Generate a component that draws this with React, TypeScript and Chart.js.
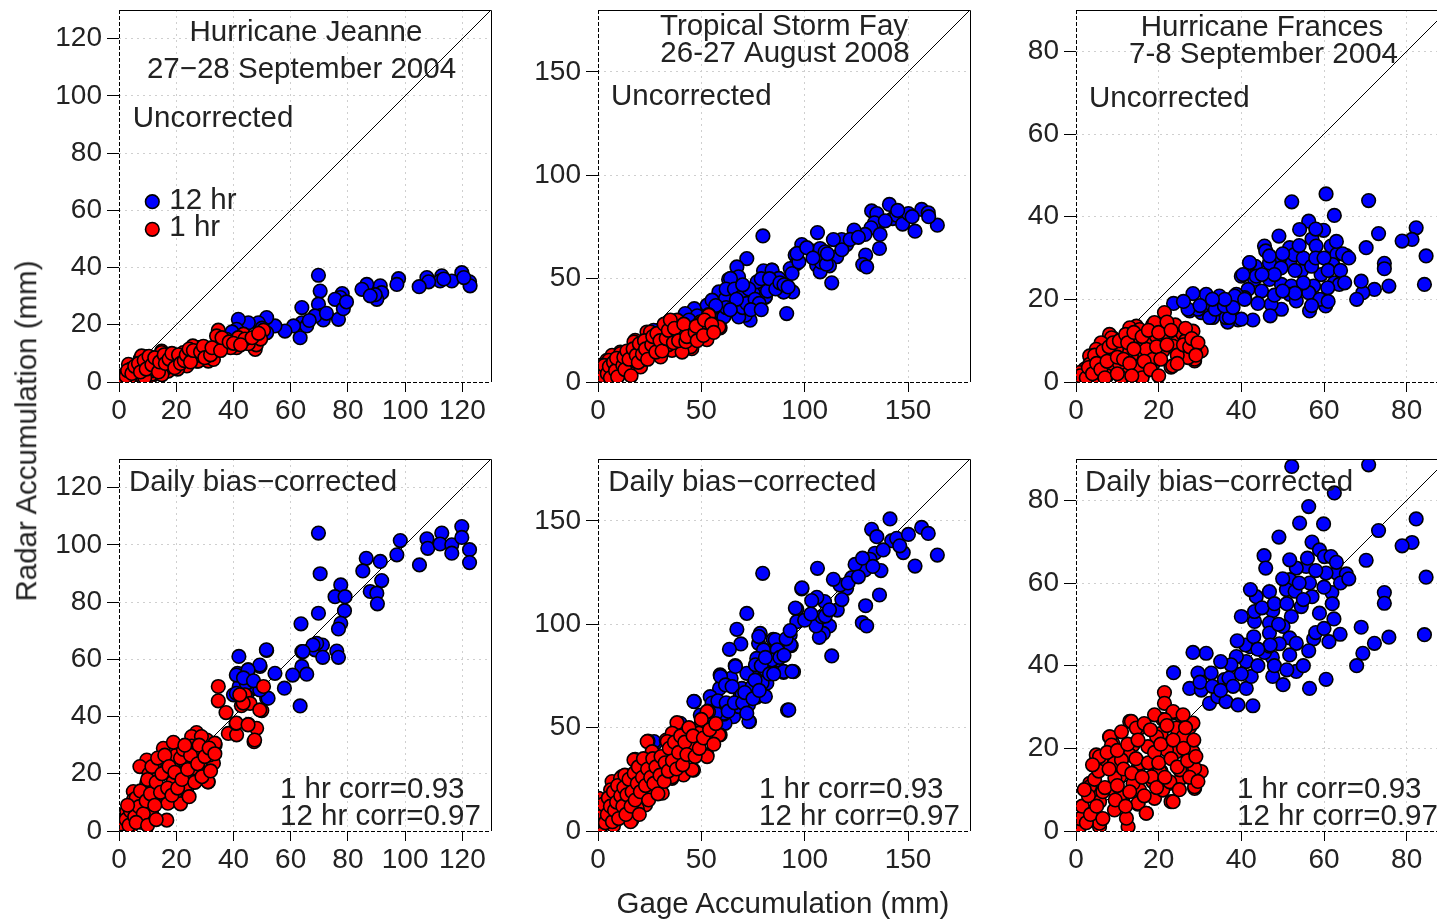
import React, { useEffect, useRef } from "react";
import { Chart, registerables } from "chart.js";

Chart.register(...registerables);

type Pt = [number, number];

// ---------- Hurricane Jeanne, uncorrected ----------
const jeanneRaw12hr: Pt[] = [
  [119.8, 38.2], [122.5, 35.0], [122.7, 33.6], [116.3, 35.3], [112.8, 37.1], [112.2, 35.3], [107.6, 36.5], [108.2, 35.0],
  [104.9, 33.3], [97.7, 36.1], [97.1, 34.1], [91.3, 33.6], [91.8, 31.2], [90.1, 28.9], [89.5, 30.5], [86.6, 34.1],
  [84.9, 32.4], [87.8, 30.1], [78.0, 30.9], [77.3, 29.5], [78.4, 27.2], [75.5, 28.9], [76.7, 21.9], [78.4, 25.6],
  [69.7, 37.3], [70.3, 31.8], [69.7, 27.2], [70.8, 23.3], [71.4, 21.7], [68.5, 23.1], [63.9, 26.0], [63.3, 15.5],
  [63.9, 20.7], [65.6, 19.6], [61.0, 19.6], [58.0, 17.8], [54.5, 19.6], [51.6, 22.5], [48.7, 20.7], [45.2, 20.7],
  [41.7, 21.9], [41.1, 18.4], [39.5, 17.5], [51.6, 17.2], [50.0, 18.8], [66.5, 21.5], [72.5, 24.0], [79.5, 28.0],
  [120.5, 36.5], [113.5, 36.0],
];
const jeanneRaw1hr: Pt[] = [
  [50.5, 18.1], [47.6, 11.4], [48.0, 13.0], [45.2, 13.4], [43.5, 16.7], [41.7, 15.5], [41.1, 12.0], [37.6, 14.9],
  [37.6, 12.5], [34.7, 18.1], [34.1, 16.1], [33.0, 10.8], [31.2, 7.3], [30.7, 11.4], [27.7, 12.0], [27.2, 7.3],
  [25.8, 12.6], [25.5, 10.3], [23.7, 5.6], [21.9, 8.5], [20.2, 7.9], [19.0, 6.8], [16.7, 9.7], [15.5, 7.9],
  [14.9, 10.8], [17.2, 3.8], [13.2, 5.6], [11.4, 2.1], [9.7, 8.9], [7.3, 7.9], [8.5, 5.6], [6.2, 4.4],
  [5.0, 2.1], [2.7, 3.3], [1.7, 0.9], [3.8, 1.5], [0.3, 2.1], [7.9, 9.1], [3.3, 6.2], [1.5, 2.1],
  [11.4, 2.7], [14.9, 10.3], [16.7, 5.0], [19.0, 8.5], [22.5, 10.3], [26.6, 9.7], [27.7, 7.3], [31.2, 10.3],
  [33.0, 7.9], [36.5, 13.8], [6.2, 3.8], [13.2, 6.2], [8.5, 5.0], [10.0, 7.0], [12.0, 4.0], [18.0, 5.5],
  [24.0, 8.0], [29.0, 9.0], [4.0, 4.5], [2.0, 1.0], [9.0, 1.5], [15.0, 2.5], [20.5, 4.5], [44.0, 15.0],
  [49.5, 15.0], [39.0, 12.0], [1.0, 1.5], [2.5, 2.0], [3.0, 4.0], [4.5, 3.0], [5.5, 5.5], [6.8, 6.5],
  [7.5, 3.5], [8.8, 7.5], [9.5, 4.5], [10.5, 9.0], [11.5, 6.0], [12.5, 8.5], [13.8, 3.5], [14.2, 7.0],
  [15.8, 9.5], [16.2, 6.5], [17.5, 8.0], [18.5, 10.0], [19.5, 5.0], [20.8, 9.5], [21.5, 6.5], [22.8, 7.5],
  [23.5, 9.5], [24.5, 11.5], [25.0, 7.0], [26.0, 11.0], [28.5, 10.5], [29.5, 12.5], [30.0, 8.5], [32.0, 9.5],
  [32.5, 12.0], [35.5, 11.0], [36.0, 15.5], [38.5, 14.0], [40.0, 13.5], [42.5, 13.0], [46.5, 15.5], [48.8, 17.0],
];

// ---------- Tropical Storm Fay, uncorrected ----------
const fayRaw12hr: Pt[] = [
  [141.0, 85.9], [142.6, 79.1], [144.5, 80.7], [147.4, 76.4], [150.2, 81.5], [153.4, 73.0], [156.6, 83.5], [159.8, 81.9],
  [164.2, 75.9], [132.4, 82.8], [134.9, 81.5], [133.8, 77.0], [132.1, 74.6], [136.5, 71.4], [129.2, 71.4], [123.9, 73.5],
  [120.3, 66.5], [117.9, 68.9], [113.9, 68.9], [115.5, 60.6], [112.0, 56.2], [113.1, 48.0], [129.5, 61.4], [128.1, 56.8],
  [130.0, 55.7], [136.2, 64.6], [106.2, 72.3], [103.4, 63.5], [107.5, 64.6], [109.9, 63.0], [105.8, 56.5], [107.5, 53.3],
  [98.6, 66.5], [95.4, 61.4], [96.2, 57.3], [93.0, 54.9], [94.2, 43.6], [91.3, 33.1], [89.7, 43.6], [87.3, 50.1],
  [84.1, 54.1], [80.1, 53.8], [79.8, 70.7], [78.5, 46.8], [80.9, 40.9], [82.5, 46.8], [72.0, 59.7], [67.2, 55.7],
  [68.0, 50.9], [63.2, 49.6], [63.9, 42.8], [65.6, 38.8], [66.4, 33.9], [71.2, 33.9], [73.6, 29.9], [74.4, 39.6],
  [76.8, 44.4], [75.2, 42.8], [61.5, 39.6], [59.9, 32.3], [59.1, 42.0], [55.9, 35.5], [52.7, 33.1], [46.6, 35.5],
  [50.3, 29.9], [42.2, 33.1], [26.9, 25.0], [64.1, 50.1], [58.5, 43.6], [61.7, 40.4], [71.3, 32.3], [81.0, 41.2],
  [84.2, 54.1], [87.5, 50.1], [89.9, 43.6], [93.9, 52.5], [97.2, 58.1], [96.3, 62.2], [52.8, 37.2], [55.2, 39.6],
  [60.9, 31.5], [68.1, 31.5], [54.4, 32.3], [70.0, 36.0], [77.0, 48.5], [85.5, 47.0], [108.0, 58.0], [110.5, 57.0],
  [62.0, 45.0], [66.0, 45.0], [69.0, 41.0], [72.0, 38.0], [73.0, 45.0], [76.0, 40.0], [78.0, 38.0], [79.0, 50.0],
  [82.0, 44.0], [83.0, 50.0], [86.0, 45.0], [88.0, 48.0], [90.0, 47.0], [92.0, 46.0], [70.0, 47.0], [67.0, 40.0],
  [62.0, 36.0], [57.0, 37.0], [64.0, 35.0], [74.0, 35.0], [79.0, 35.0], [48.0, 32.0], [44.0, 30.0], [38.0, 28.0],
  [33.0, 27.0], [101.0, 65.0], [104.0, 60.0], [111.0, 62.0], [118.0, 64.0], [122.0, 69.0], [126.0, 70.0], [139.0, 78.0],
  [145.0, 83.0], [152.0, 80.0], [160.0, 80.0],
];
const fayRaw1hr: Pt[] = [
  [53.5, 32.6], [49.5, 29.1], [52.7, 20.5], [45.4, 23.4], [45.4, 16.1], [43.8, 25.8], [38.2, 29.4], [36.6, 21.5],
  [35.8, 15.3], [32.6, 24.2], [31.7, 19.4], [30.1, 12.9], [27.7, 16.1], [23.7, 24.2], [25.3, 20.2], [21.3, 15.3],
  [18.0, 20.2], [14.8, 9.7], [11.6, 4.8], [10.8, 14.5], [6.8, 12.9], [4.3, 10.5], [1.9, 5.7], [1.1, 1.6],
  [16.4, 12.1], [18.8, 7.3], [59.1, 26.2], [49.5, 25.0], [40.6, 23.4], [58.5, 26.6], [53.6, 32.3], [49.6, 28.3],
  [45.6, 22.6], [44.8, 17.0], [38.3, 29.9], [35.9, 21.8], [31.9, 25.9], [30.3, 12.1], [25.4, 24.2], [24.7, 18.6],
  [20.6, 15.4], [17.4, 19.4], [16.6, 10.5], [10.9, 13.8], [11.7, 5.7], [5.3, 10.5], [2.1, 2.4], [40.7, 14.5],
  [39.9, 25.0], [20.6, 7.3], [29.5, 17.0], [8.0, 8.0], [13.5, 9.0], [22.0, 11.0], [27.0, 20.0], [34.0, 18.0],
  [3.5, 6.0], [7.0, 3.0], [0.5, 8.0], [2.0, 3.0], [3.0, 8.0], [4.5, 4.0], [5.5, 7.5], [6.0, 2.0],
  [7.5, 9.5], [8.5, 5.5], [9.0, 11.5], [9.5, 2.5], [12.0, 8.0], [12.5, 12.0], [13.0, 6.0], [14.0, 15.0],
  [15.0, 11.0], [16.0, 3.0], [17.0, 16.0], [18.5, 13.0], [19.5, 9.5], [20.0, 18.5], [21.5, 13.5], [22.5, 20.0],
  [23.0, 16.0], [24.0, 11.0], [26.0, 18.0], [26.5, 22.0], [28.0, 14.5], [28.5, 23.5], [30.0, 20.0], [31.0, 15.0],
  [32.0, 28.0], [33.0, 21.0], [34.0, 25.0], [35.0, 30.0], [36.5, 19.0], [37.0, 26.0], [39.0, 20.0], [41.5, 28.0],
  [42.5, 19.5], [43.0, 22.0], [47.0, 24.0], [47.5, 27.0], [48.0, 20.0], [51.0, 22.5], [51.5, 30.0], [55.0, 28.0],
  [56.0, 24.0],
];

// ---------- Hurricane Frances, uncorrected ----------
const francesRaw12hr: Pt[] = [
  [60.5, 45.5], [52.2, 43.6], [70.8, 43.9], [62.5, 40.3], [56.3, 38.9], [54.1, 36.9], [59.9, 36.7], [73.2, 35.9],
  [82.3, 37.3], [81.3, 34.5], [78.9, 34.1], [84.7, 30.5], [84.3, 23.6], [70.2, 32.5], [74.6, 28.7], [74.6, 27.4],
  [75.7, 23.2], [72.2, 22.4], [69.4, 21.6], [69.0, 24.4], [67.9, 20.0], [49.1, 35.3], [45.6, 32.9], [45.9, 31.7],
  [57.1, 34.6], [58.1, 32.9], [61.7, 32.9], [63.1, 30.9], [65.4, 30.6], [64.5, 31.0], [62.1, 28.4], [59.3, 26.0],
  [62.5, 24.0], [63.7, 23.6], [60.9, 22.8], [57.5, 23.2], [56.3, 21.6], [56.5, 17.2], [60.4, 18.4], [54.5, 26.8],
  [51.7, 32.5], [51.7, 28.8], [52.8, 30.8], [49.2, 29.7], [46.8, 28.8], [43.4, 28.0], [42.0, 28.8], [40.0, 25.6],
  [43.2, 24.8], [46.8, 24.8], [49.7, 23.6], [52.1, 23.2], [51.7, 21.2], [53.3, 19.6], [49.7, 17.6], [47.2, 18.8],
  [44.9, 22.0], [41.6, 22.4], [40.8, 20.4], [42.8, 15.0], [39.2, 15.0], [36.7, 14.5], [36.3, 15.6], [34.7, 20.8],
  [35.9, 18.4], [32.3, 18.9], [31.5, 21.2], [30.3, 16.8], [27.5, 17.2], [28.3, 21.4], [33.1, 15.6], [23.6, 19.0],
  [38.8, 21.2], [49.6, 27.6], [46.8, 30.5], [38.4, 20.8], [40.8, 20.0], [40.0, 15.2], [37.1, 15.6], [32.3, 15.6],
  [29.5, 17.6], [27.1, 17.6], [33.7, 17.6], [35.9, 18.4], [43.6, 25.6], [42.0, 28.9], [40.4, 26.0], [48.0, 26.0],
  [50.0, 31.0], [53.0, 27.0], [55.0, 30.0], [57.0, 28.0], [58.0, 30.0], [60.0, 30.0], [61.0, 27.0], [64.0, 27.0],
  [66.0, 30.0], [65.0, 24.0], [55.0, 24.0], [53.0, 21.5], [48.0, 21.0], [45.0, 26.0], [44.0, 19.0], [47.0, 16.0],
  [38.0, 18.0], [36.0, 20.0], [33.0, 20.0], [30.0, 18.5], [26.0, 19.5], [58.0, 37.0], [63.0, 34.0], [54.0, 33.0],
  [50.0, 22.0], [59.0, 20.0], [61.0, 19.5], [57.0, 18.5],
];
const francesRaw1hr: Pt[] = [
  [21.4, 16.8], [21.0, 13.1], [23.0, 3.6], [28.7, 5.1], [30.3, 7.5], [28.7, 7.9], [27.5, 12.3], [25.1, 11.9],
  [25.9, 6.3], [24.3, 9.5], [21.0, 7.5], [18.2, 10.3], [18.6, 13.9], [14.6, 13.5], [13.0, 13.1], [15.4, 9.5],
  [15.4, 6.3], [15.0, 3.1], [11.4, 8.7], [8.9, 10.7], [8.1, 11.5], [5.7, 8.3], [8.5, 5.1], [9.3, 2.7],
  [3.7, 5.9], [1.7, 2.3], [5.7, 0.6], [17.0, 2.7], [13.4, 6.3], [18.6, 4.3], [6.9, 6.3], [12.2, 3.5],
  [0.5, 0.6], [21.0, 13.5], [19.0, 14.4], [17.8, 10.7], [15.4, 12.7], [15.0, 9.1], [8.6, 10.7], [6.1, 9.5],
  [4.9, 7.9], [8.9, 5.5], [6.5, 4.3], [2.1, 3.1], [12.6, 2.7], [15.0, 3.5], [17.8, 6.3], [21.0, 10.7],
  [23.4, 8.7], [23.4, 3.9], [25.9, 11.5], [28.3, 12.3], [28.7, 5.5], [27.1, 5.9], [19.4, 11.1], [17.0, 7.9],
  [3.3, 6.3], [0.9, 2.3], [8.9, 2.7], [5.7, 2.3], [18.6, 5.5], [12.2, 7.1], [9.8, 7.9], [3.3, 4.3],
  [10.5, 4.5], [13.5, 10.5], [24.0, 13.8], [26.5, 10.0], [11.0, 1.0], [7.5, 1.5], [1.0, 1.5], [2.5, 1.0],
  [3.0, 3.5], [4.0, 2.0], [4.5, 6.5], [5.0, 4.5], [6.0, 3.0], [6.5, 7.5], [7.0, 1.0], [7.5, 5.0],
  [8.0, 8.5], [9.0, 9.5], [10.0, 6.0], [10.0, 2.0], [10.5, 10.0], [11.5, 5.5], [12.0, 11.5], [12.5, 9.5],
  [13.0, 4.5], [14.0, 8.0], [14.0, 12.0], [16.0, 11.0], [16.5, 5.0], [16.0, 1.0], [17.5, 12.5], [18.0, 3.0],
  [19.5, 8.5], [20.0, 12.0], [20.5, 5.5], [22.0, 9.0], [22.0, 14.5], [23.0, 12.5], [24.5, 6.5], [26.0, 9.0],
  [26.5, 13.0], [27.5, 8.5], [28.0, 10.5], [29.5, 9.5], [29.0, 6.5], [24.5, 4.5], [20.0, 1.5], [13.5, 1.5],
];

// ---------- Hurricane Jeanne, daily bias-corrected ----------
const jeanneCor12hr: Pt[] = [
  [69.7, 104.1], [70.3, 89.9], [98.3, 101.5], [97.1, 96.5], [105.0, 93.0], [107.6, 102.1], [107.9, 98.8], [112.8, 104.1],
  [112.2, 100.3], [116.3, 100.0], [116.3, 97.1], [119.8, 106.4], [119.8, 102.6], [122.5, 98.3], [122.5, 93.8], [86.4, 95.3],
  [85.2, 90.9], [91.3, 94.2], [91.8, 87.5], [87.8, 83.7], [90.1, 83.1], [90.3, 79.4], [77.5, 86.0], [75.5, 81.9],
  [79.0, 81.9], [78.8, 77.0], [77.5, 72.6], [76.7, 70.6], [69.7, 76.1], [63.6, 72.4], [63.9, 62.7], [68.5, 63.3],
  [71.1, 65.0], [71.2, 60.7], [76.1, 62.9], [76.7, 60.7], [63.9, 57.5], [65.6, 54.8], [60.7, 54.5], [57.8, 49.9],
  [63.3, 43.7], [54.5, 55.1], [51.6, 63.1], [49.3, 57.5], [51.6, 46.4], [41.9, 61.0], [41.4, 55.1], [45.2, 56.3],
  [42.0, 50.5], [47.6, 49.9], [40.0, 47.6], [44.6, 47.0], [69.1, 65.6], [51.5, 63.3], [49.2, 58.0], [45.1, 56.3],
  [41.0, 54.5], [52.1, 46.4], [49.2, 49.3], [44.5, 51.6], [41.0, 48.1], [67.8, 65.0], [64.3, 62.7], [43.5, 53.5],
  [47.0, 52.5],
];
const jeanneCor1hr: Pt[] = [
  [34.7, 50.5], [34.7, 45.5], [37.4, 41.4], [38.2, 34.1], [41.1, 33.6], [40.9, 37.6], [44.0, 47.6], [42.8, 43.8],
  [45.8, 44.6], [50.5, 50.5], [49.9, 42.1], [45.2, 37.3], [48.1, 35.9], [47.2, 31.2], [33.6, 30.1], [30.7, 31.8],
  [27.1, 34.4], [25.4, 33.0], [25.4, 29.7], [27.7, 26.0], [30.7, 23.1], [31.2, 17.2], [27.2, 17.8], [23.7, 14.9],
  [21.3, 24.2], [19.0, 17.2], [15.5, 28.9], [14.3, 24.2], [16.1, 21.3], [9.7, 24.8], [7.3, 22.5], [9.7, 16.7],
  [9.1, 13.2], [5.0, 13.8], [5.0, 10.8], [16.7, 3.8], [11.4, 6.2], [2.7, 6.8], [1.5, 3.3], [2.1, 1.5],
  [17.8, 10.3], [13.2, 15.5], [23.1, 20.2], [28.3, 20.7], [33.0, 23.7], [28.8, 33.0], [33.5, 30.7], [31.7, 26.6],
  [25.9, 24.2], [28.2, 20.2], [31.1, 17.2], [23.5, 16.1], [15.4, 23.7], [18.9, 17.2], [16.5, 21.3], [12.5, 19.0],
  [9.0, 13.2], [14.2, 10.8], [17.1, 9.7], [11.3, 6.2], [3.1, 4.4], [1.4, 1.5], [21.2, 19.6], [23.0, 24.2],
  [43.4, 44.7], [49.2, 42.3], [42.2, 47.6], [41.0, 37.7], [45.1, 37.1], [47.4, 31.8], [6.5, 8.0], [8.0, 3.0],
  [12.0, 11.5], [19.5, 13.0], [21.5, 9.5], [4.0, 1.0], [10.5, 20.0], [20.0, 26.5], [26.0, 22.0], [1.0, 2.5],
  [2.5, 4.0], [3.5, 2.0], [4.0, 7.0], [5.5, 5.0], [6.0, 11.5], [7.0, 8.5], [7.5, 14.0], [8.5, 6.0],
  [9.5, 10.5], [10.0, 18.0], [11.0, 13.0], [11.5, 22.5], [12.5, 9.0], [13.0, 17.0], [13.5, 25.5], [14.5, 13.5],
  [15.0, 20.0], [16.0, 26.5], [17.0, 15.0], [17.5, 22.5], [18.5, 12.5], [19.5, 20.5], [20.5, 15.0], [21.5, 25.5],
  [22.0, 18.0], [22.5, 28.5], [24.0, 21.5], [24.5, 12.0], [25.0, 26.5], [26.5, 17.0], [27.5, 23.5], [28.0, 30.0],
  [29.0, 19.0], [30.0, 26.0], [31.5, 29.0], [32.0, 21.0], [33.5, 27.0], [19.0, 31.0], [23.0, 30.0], [6.0, 3.0],
  [10.0, 2.0], [13.0, 4.0], [3.0, 9.0],
];

// ---------- Tropical Storm Fay, daily bias-corrected ----------
const fayCor12hr: Pt[] = [
  [141.3, 151.0], [132.4, 146.0], [134.9, 142.4], [142.1, 140.5], [144.5, 141.6], [150.2, 143.5], [156.6, 146.9], [159.8, 144.0],
  [164.2, 133.5], [147.7, 134.7], [153.4, 128.2], [134.0, 134.4], [131.6, 131.5], [129.2, 126.3], [136.9, 126.0], [136.2, 114.2],
  [129.5, 109.0], [127.9, 100.8], [130.0, 99.2], [124.4, 129.0], [122.8, 122.6], [120.3, 117.4], [117.1, 119.0], [113.9, 121.8],
  [115.8, 106.9], [113.1, 84.7], [112.0, 99.2], [109.0, 95.6], [107.1, 93.7], [105.5, 99.2], [108.3, 103.7], [109.6, 111.0],
  [105.9, 113.1], [103.4, 111.5], [106.2, 127.1], [98.6, 117.1], [96.2, 107.4], [96.2, 101.3], [93.0, 94.8], [93.5, 89.7],
  [94.6, 77.1], [89.8, 76.8], [91.7, 58.5], [86.5, 87.9], [84.8, 92.7], [86.8, 82.7], [79.7, 124.7], [78.5, 95.6],
  [77.7, 90.8], [80.1, 87.6], [76.8, 83.5], [77.7, 77.9], [80.1, 74.4], [81.7, 71.5], [75.2, 69.8], [72.0, 76.3],
  [72.0, 105.3], [67.2, 97.6], [69.1, 90.5], [63.6, 87.9], [66.4, 80.0], [64.4, 73.9], [59.1, 75.5], [58.8, 69.0],
  [69.6, 69.0], [68.8, 65.3], [72.8, 61.0], [73.3, 52.9], [67.2, 60.2], [65.6, 55.3], [61.5, 52.1], [60.9, 56.6],
  [54.3, 65.0], [55.9, 60.2], [55.9, 53.2], [46.6, 62.6], [49.5, 56.1], [39.8, 52.1], [27.7, 42.4], [76.8, 64.8],
  [66.5, 79.6], [59.3, 74.8], [61.7, 70.7], [64.9, 69.9], [69.7, 65.9], [74.6, 69.9], [79.4, 71.6], [81.0, 65.1],
  [68.1, 60.2], [73.0, 53.0], [60.9, 57.0], [55.2, 61.9], [46.4, 62.7], [52.8, 55.4], [39.1, 48.9], [27.1, 43.3],
  [77.8, 94.1], [85.8, 92.5], [86.7, 87.7], [89.9, 77.2], [93.9, 77.2], [92.3, 58.6], [93.1, 90.1], [95.5, 107.9],
  [98.7, 117.6], [81.0, 78.0], [76.2, 80.4], [84.2, 82.8], [50.0, 52.0], [53.0, 58.0], [57.0, 57.0], [58.0, 63.0],
  [62.0, 62.0], [63.0, 58.0], [66.0, 62.0], [70.0, 62.0], [71.0, 67.0], [72.0, 57.0], [75.0, 64.0], [76.0, 73.0],
  [78.0, 68.0], [79.0, 80.0], [81.0, 84.0], [83.0, 76.0], [85.0, 76.0], [88.0, 84.0], [90.0, 85.0], [91.0, 93.0],
  [93.0, 97.0], [100.0, 102.0], [103.0, 105.0], [110.0, 104.0], [112.0, 107.0], [118.0, 112.0], [121.0, 120.0], [126.0, 123.0],
  [128.0, 132.0], [133.0, 128.0], [138.0, 136.0], [146.0, 138.0],
];
const fayCor1hr: Pt[] = [
  [53.5, 57.7], [50.3, 50.5], [59.1, 46.5], [52.7, 36.8], [46.2, 29.5], [44.6, 41.6], [47.9, 44.0], [38.2, 52.4],
  [36.6, 38.4], [35.8, 25.5], [33.0, 44.0], [24.2, 43.5], [26.1, 32.7], [18.0, 34.7], [21.3, 28.7], [11.6, 26.3],
  [6.8, 23.9], [4.0, 12.6], [0.3, 15.8], [1.9, 2.9], [16.4, 5.3], [11.6, 9.4], [15.6, 15.0], [23.7, 18.2],
  [29.3, 21.5], [41.4, 27.1], [52.8, 57.8], [50.4, 51.4], [58.5, 46.5], [52.8, 36.0], [35.9, 47.3], [44.0, 45.7],
  [45.6, 41.7], [48.8, 47.3], [40.7, 40.8], [35.9, 37.6], [23.8, 43.3], [33.5, 43.3], [26.2, 38.4], [31.1, 32.8],
  [45.6, 29.6], [37.5, 31.2], [17.4, 34.4], [25.4, 30.4], [20.6, 28.0], [10.9, 25.5], [15.8, 21.5], [21.4, 23.9],
  [29.5, 22.3], [35.9, 26.3], [26.2, 19.9], [31.1, 18.3], [6.1, 19.9], [3.7, 11.8], [10.9, 9.4], [15.8, 15.0],
  [21.4, 15.0], [1.3, 2.1], [15.8, 4.5], [23.0, 12.6], [6.9, 6.9], [8.5, 15.5], [13.0, 19.0], [19.0, 11.0],
  [28.0, 26.0], [40.0, 35.0], [3.0, 7.0], [7.5, 2.5], [1.0, 5.0], [2.0, 9.0], [2.5, 13.0], [3.5, 4.0],
  [4.5, 8.0], [5.0, 16.0], [6.0, 12.0], [7.0, 4.5], [7.5, 19.0], [8.0, 10.0], [9.0, 14.0], [9.5, 22.0],
  [10.0, 6.0], [11.0, 17.0], [12.0, 12.0], [12.5, 21.0], [13.0, 27.0], [13.5, 8.0], [14.0, 17.5], [15.0, 25.0],
  [16.0, 12.0], [16.5, 19.0], [17.5, 28.0], [18.0, 15.0], [19.0, 23.0], [19.5, 31.0], [20.0, 8.0], [20.5, 19.0],
  [21.5, 26.0], [22.0, 35.0], [23.0, 22.0], [24.0, 30.0], [24.5, 15.0], [25.5, 26.0], [26.5, 35.0], [27.0, 23.0],
  [28.0, 31.0], [29.0, 18.0], [30.0, 27.0], [30.5, 36.0], [32.0, 24.0], [32.5, 33.0], [34.0, 29.0], [34.5, 40.0],
  [36.0, 34.0], [37.0, 43.0], [38.0, 30.0], [39.0, 38.0], [40.0, 46.0], [41.0, 32.0], [42.0, 43.0], [43.0, 37.0],
  [44.0, 50.0], [46.0, 46.0], [47.0, 36.0], [49.0, 40.0], [50.0, 54.0], [51.0, 45.0], [54.0, 49.0], [56.0, 42.0],
  [57.0, 52.0],
];

// ---------- Hurricane Frances, daily bias-corrected ----------
const francesCor12hr: Pt[] = [
  [52.2, 88.2], [70.8, 88.6], [62.5, 81.8], [56.3, 78.5], [54.1, 74.5], [59.9, 74.3], [49.1, 71.1], [73.2, 72.7],
  [82.3, 75.5], [81.3, 69.8], [78.9, 69.0], [84.7, 61.4], [84.3, 47.5], [70.2, 65.5], [74.6, 57.7], [74.6, 55.1],
  [75.7, 46.9], [72.2, 45.4], [69.4, 43.0], [69.0, 49.3], [67.9, 40.0], [57.1, 69.9], [58.9, 68.0], [60.1, 66.4],
  [61.7, 66.4], [63.1, 62.4], [65.4, 62.2], [60.5, 62.4], [61.9, 57.7], [58.9, 52.7], [62.4, 51.3], [63.9, 47.6],
  [61.2, 45.8], [57.5, 46.5], [56.3, 43.6], [56.5, 34.5], [60.5, 36.7], [57.1, 56.7], [56.5, 60.0], [54.5, 54.3],
  [55.7, 64.0], [53.3, 63.6], [51.7, 65.6], [51.7, 60.8], [50.9, 58.4], [46.8, 57.9], [45.5, 66.6], [45.9, 63.6],
  [47.6, 53.3], [52.1, 51.9], [50.1, 49.5], [46.8, 50.3], [43.6, 56.7], [42.2, 58.4], [40.0, 51.9], [43.2, 50.7],
  [43.2, 53.1], [46.8, 47.9], [51.7, 46.7], [53.3, 45.4], [51.7, 42.6], [49.2, 45.3], [47.5, 42.0], [45.6, 43.2],
  [42.1, 44.6], [41.2, 41.0], [38.8, 42.2], [37.5, 40.2], [35.9, 36.6], [32.7, 38.2], [31.5, 43.0], [28.3, 43.2],
  [29.5, 38.2], [27.5, 34.5], [30.3, 34.1], [32.3, 30.9], [34.3, 32.5], [36.3, 31.3], [39.2, 30.5], [42.8, 30.3],
  [41.2, 34.5], [47.6, 37.4], [50.1, 35.4], [53.3, 38.6], [23.6, 38.3], [46.8, 44.7], [42.4, 37.4], [30.0, 36.0],
  [33.0, 35.0], [35.0, 34.0], [37.0, 37.0], [38.0, 35.0], [40.0, 38.0], [41.0, 45.0], [43.0, 47.0], [44.0, 40.0],
  [45.0, 54.0], [47.0, 45.0], [48.0, 55.0], [49.0, 50.0], [50.0, 61.0], [51.0, 55.0], [53.0, 58.0], [54.0, 60.0],
  [55.0, 56.0], [56.0, 66.0], [58.0, 63.0], [60.0, 59.0], [62.0, 55.0], [63.0, 65.0], [64.0, 60.0], [66.0, 61.0],
  [58.0, 48.0], [60.0, 49.0], [48.0, 40.0], [51.0, 39.0], [55.0, 40.0], [44.0, 44.0], [39.0, 46.0], [35.0, 41.0],
];
const francesCor1hr: Pt[] = [
  [21.4, 33.5], [21.4, 30.9], [23.4, 28.5], [25.5, 27.8], [27.5, 25.1], [28.3, 26.1], [21.0, 27.0], [19.0, 28.1],
  [13.0, 26.5], [15.4, 24.9], [20.6, 23.6], [25.9, 22.8], [24.3, 19.2], [28.3, 19.2], [28.3, 15.2], [30.3, 14.4],
  [28.7, 10.3], [25.5, 12.8], [22.6, 11.5], [23.0, 7.1], [20.6, 14.4], [18.2, 16.4], [19.0, 7.9], [15.4, 9.9],
  [15.0, 15.2], [11.4, 18.0], [8.1, 22.8], [8.9, 21.2], [6.1, 17.2], [4.9, 18.4], [9.3, 16.4], [13.8, 20.8],
  [10.6, 13.2], [8.5, 10.3], [4.5, 9.9], [3.3, 11.5], [5.7, 7.1], [9.3, 5.1], [2.1, 4.7], [0.9, 1.0],
  [5.7, 1.0], [12.6, 1.0], [17.0, 4.3], [15.0, 6.5], [11.4, 8.3], [18.6, 11.9], [21.0, 9.9], [23.5, 28.9],
  [25.9, 28.1], [13.4, 26.5], [14.6, 24.9], [21.5, 26.9], [24.3, 24.9], [25.9, 22.8], [19.5, 22.8], [8.2, 22.8],
  [8.6, 20.8], [17.4, 20.4], [21.9, 19.6], [13.0, 18.4], [5.7, 18.0], [11.0, 17.2], [15.4, 16.4], [20.3, 14.4],
  [25.1, 14.8], [28.7, 15.2], [22.7, 11.9], [18.3, 13.1], [13.8, 11.5], [9.4, 12.8], [3.3, 10.7], [6.5, 9.5],
  [10.6, 8.3], [15.0, 6.7], [23.5, 7.1], [28.7, 10.7], [2.5, 4.7], [5.7, 1.9], [17.0, 4.3], [12.2, 3.1],
  [1.0, 3.0], [1.5, 6.0], [2.5, 2.0], [3.0, 8.5], [3.5, 4.0], [4.5, 12.5], [5.0, 6.0], [5.5, 14.5],
  [6.5, 3.0], [7.0, 10.5], [7.5, 19.0], [8.0, 15.0], [9.5, 7.5], [10.0, 19.5], [10.0, 11.0], [11.0, 24.0],
  [11.5, 15.0], [12.0, 6.0], [12.5, 21.0], [13.0, 9.5], [13.5, 14.0], [14.5, 17.5], [15.0, 22.0], [16.0, 13.0],
  [16.5, 26.0], [16.5, 8.5], [17.5, 16.5], [18.0, 24.5], [19.0, 19.0], [19.5, 10.5], [20.0, 16.5], [20.5, 21.0],
  [21.5, 13.0], [22.0, 25.5], [23.0, 17.5], [23.5, 22.0], [24.5, 15.5], [25.0, 10.0], [26.0, 20.0], [26.5, 25.0],
  [27.0, 17.0], [27.5, 13.0], [28.5, 22.0], [29.0, 18.0], [29.5, 12.0], [2.0, 10.0], [4.0, 16.0],
];

// ---------- axes ----------
const jeanneTicks = [0, 20, 40, 60, 80, 100, 120];
const fayTicks = [0, 50, 100, 150];
const francesTicks = [0, 20, 40, 60, 80];
const jeanneMax = 130;
const fayMax = 180;
const francesMax = 90;

const FONT = "'Liberation Sans', Arial, Helvetica, sans-serif";
const TXT = "#222";
const PLOT = 372;
const PAD_L = 110;
const PAD_T = 12;
const PAD_R = 12;
const PAD_B = 60;
const CW = PAD_L + PLOT + PAD_R;
const CH = PAD_T + PLOT + PAD_B;

type Label = { text: string; x: number; y: number; align: CanvasTextAlign };

interface PanelSpec {
  left: number;
  top: number;
  max: number;
  ticks: number[];
  hr12: Pt[];
  hr1: Pt[];
  labels: Label[];
  legend?: boolean;
}

const corrLabels = (dx: number): Label[] => [
  { text: "Daily bias\u2212corrected", x: dx, y: 31.7, align: "left" },
  { text: "1 hr corr=0.93", x: 161, y: 339.3, align: "left" },
  { text: "12 hr corr=0.97", x: 161, y: 366, align: "left" },
];

const panels: PanelSpec[] = [
  {
    left: 119, top: 10, max: jeanneMax, ticks: jeanneTicks, hr12: jeanneRaw12hr, hr1: jeanneRaw1hr, legend: true,
    labels: [
      { text: "Hurricane Jeanne", x: 187, y: 30.7, align: "center" },
      { text: "27\u221228 September 2004", x: 182.5, y: 68.3, align: "center" },
      { text: "Uncorrected", x: 13.7, y: 116.7, align: "left" },
    ],
  },
  {
    left: 598, top: 10, max: fayMax, ticks: fayTicks, hr12: fayRaw12hr, hr1: fayRaw1hr,
    labels: [
      { text: "Tropical Storm Fay", x: 186, y: 25, align: "center" },
      { text: "26-27 August 2008", x: 187, y: 52.3, align: "center" },
      { text: "Uncorrected", x: 13, y: 95, align: "left" },
    ],
  },
  {
    left: 1076, top: 10, max: francesMax, ticks: francesTicks, hr12: francesRaw12hr, hr1: francesRaw1hr,
    labels: [
      { text: "Hurricane Frances", x: 186, y: 25.7, align: "center" },
      { text: "7-8 September 2004", x: 187.5, y: 53.3, align: "center" },
      { text: "Uncorrected", x: 13, y: 96.7, align: "left" },
    ],
  },
  { left: 119, top: 459, max: jeanneMax, ticks: jeanneTicks, hr12: jeanneCor12hr, hr1: jeanneCor1hr, labels: corrLabels(10) },
  { left: 598, top: 459, max: fayMax, ticks: fayTicks, hr12: fayCor12hr, hr1: fayCor1hr, labels: corrLabels(10.3) },
  { left: 1076, top: 459, max: francesMax, ticks: francesTicks, hr12: francesCor12hr, hr1: francesCor1hr, labels: corrLabels(9) },
];

const POINT_R = 6.8;
const POINT_BW = 1.6;

function makeDecor(spec: PanelSpec) {
  return {
    id: "panelDecor",
    afterDraw(chart: any) {
      const { ctx, chartArea: a } = chart;
      ctx.save();
      ctx.strokeStyle = "#000";
      ctx.lineWidth = 1;
      ctx.setLineDash([]);
      ctx.beginPath();
      ctx.moveTo(a.left, a.top + 0.5);
      ctx.lineTo(a.right + 0.5, a.top + 0.5);
      ctx.lineTo(a.right + 0.5, a.bottom);
      ctx.stroke();
      ctx.setLineDash([4, 2]);
      ctx.beginPath();
      ctx.moveTo(a.left + 0.5, a.top);
      ctx.lineTo(a.left + 0.5, a.bottom + 0.5);
      ctx.lineTo(a.right, a.bottom + 0.5);
      ctx.stroke();
      ctx.setLineDash([]);

      ctx.fillStyle = TXT;
      ctx.font = `29.5px ${FONT}`;
      ctx.textBaseline = "alphabetic";
      for (const l of spec.labels) {
        ctx.textAlign = l.align;
        ctx.fillText(l.text, a.left + l.x, a.top + l.y);
      }
      if (spec.legend) {
        const items = [
          { c: "#0000ff", t: "12 hr", cy: 191.7, ty: 199.3 },
          { c: "#ff0000", t: "1 hr", cy: 219.3, ty: 226 },
        ];
        for (const it of items) {
          ctx.beginPath();
          ctx.arc(a.left + 33.3, a.top + it.cy, POINT_R, 0, Math.PI * 2);
          ctx.fillStyle = it.c;
          ctx.fill();
          ctx.lineWidth = POINT_BW;
          ctx.strokeStyle = "#000";
          ctx.stroke();
          ctx.fillStyle = TXT;
          ctx.textAlign = "left";
          ctx.fillText(it.t, a.left + 50.3, a.top + it.ty);
        }
      }
      ctx.restore();
    },
  };
}

function Panel({ spec }: { spec: PanelSpec }) {
  const ref = useRef<HTMLCanvasElement | null>(null);
  useEffect(() => {
    const toXY = (arr: Pt[]) => arr.map(([x, y]) => ({ x, y }));
    const axis = (isX: boolean) => ({
      type: "linear",
      position: isX ? "bottom" : "left",
      min: 0,
      max: spec.max,
      z: 1,
      afterBuildTicks: (s: any) => {
        s.ticks = spec.ticks.map((v) => ({ value: v }));
      },
      afterFit: (s: any) => {
        if (isX) {
          s.height = PAD_B;
          s.paddingLeft = 0;
          s.paddingRight = 0;
        } else {
          s.width = PAD_L;
          s.paddingTop = 0;
          s.paddingBottom = 0;
        }
      },
      ticks: {
        font: { family: FONT, size: 28 },
        color: TXT,
        padding: isX ? 2 : 5,
        maxRotation: 0,
        autoSkip: false,
        callback: (v: any) => String(v),
      },
      grid: {
        color: "#cfcfcf",
        lineWidth: 1,
        tickLength: isX ? 10 : 12,
        tickColor: "#000",
        tickWidth: 1,
        drawOnChartArea: true,
      },
      border: { display: false, dash: [2, 4] },
    });
    const chart = new Chart(ref.current as HTMLCanvasElement, {
      type: "scatter",
      data: {
        datasets: [
          {
            label: "1 hr",
            data: toXY(spec.hr1),
            backgroundColor: "#ff0000",
            borderColor: "#000",
            borderWidth: POINT_BW,
            pointRadius: POINT_R,
            order: 0,
          },
          {
            label: "12 hr",
            data: toXY(spec.hr12),
            backgroundColor: "#0000ff",
            borderColor: "#000",
            borderWidth: POINT_BW,
            pointRadius: POINT_R,
            order: 1,
          },
          {
            label: "1:1",
            data: [{ x: 0, y: 0 }, { x: spec.max, y: spec.max }],
            showLine: true,
            borderColor: "#000",
            borderWidth: 1,
            pointRadius: 0,
            order: 2,
          },
        ],
      } as any,
      options: {
        responsive: false,
        maintainAspectRatio: false,
        animation: false,
        events: [],
        layout: { padding: { left: 0, top: PAD_T, right: PAD_R, bottom: 0 } },
        plugins: { legend: { display: false }, tooltip: { enabled: false } },
        scales: { x: axis(true), y: axis(false) } as any,
      },
      plugins: [makeDecor(spec)],
    });
    return () => chart.destroy();
  }, [spec]);
  return (
    <canvas
      ref={ref}
      width={CW}
      height={CH}
      style={{ position: "absolute", left: spec.left - PAD_L, top: spec.top - PAD_T, width: CW, height: CH }}
    />
  );
}

export default function App() {
  return (
    <div
      style={{
        position: "fixed",
        left: 0,
        top: 0,
        width: 1437,
        height: 919,
        overflow: "hidden",
        background: "#fff",
      }}
    >
      {panels.map((p, i) => (
        <Panel key={i} spec={p} />
      ))}
      <div
        style={{
          position: "absolute",
          left: 26,
          top: 431,
          transform: "translate(-50%, -50%) rotate(-90deg)",
          font: `29.5px ${FONT}`,
          lineHeight: 1,
          color: TXT,
          whiteSpace: "nowrap",
        }}
      >
        Radar Accumulation (mm)
      </div>
      <div
        style={{
          position: "absolute",
          left: 783,
          top: 903,
          transform: "translate(-50%, -50%)",
          font: `29.5px ${FONT}`,
          lineHeight: 1,
          color: TXT,
          whiteSpace: "nowrap",
        }}
      >
        Gage Accumulation (mm)
      </div>
    </div>
  );
}
